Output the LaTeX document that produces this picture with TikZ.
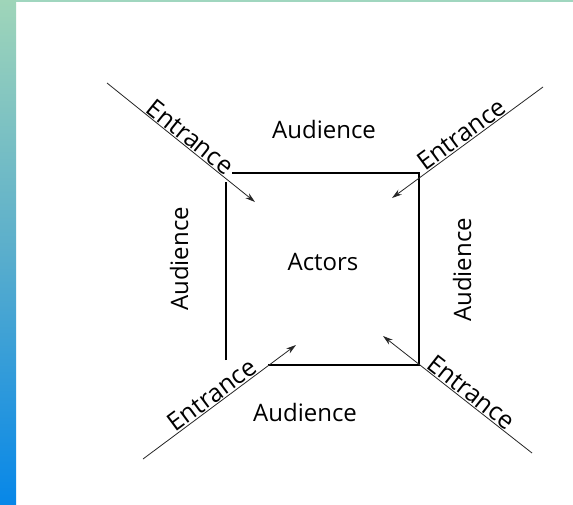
\documentclass[tikz,border=0pt]{standalone}
\usepackage{fontspec}
\setmainfont{Open Sans}
\usetikzlibrary{arrows.meta}
\definecolor{bartop}{HTML}{9FD5B9}
\definecolor{barmid}{HTML}{5AAECC}
\definecolor{barbot}{HTML}{0787E8}
\definecolor{topband}{HTML}{A0D6BF}
\tikzset{
  lbl/.style={font=\fontsize{24}{28}\selectfont, inner sep=0pt, text=black},
  ent/.style={font=\fontsize{25}{29}\selectfont, inner sep=1pt, text=black, sloped, above},
  entline/.style={line width=0.8pt, draw=black!85, -{Stealth[length=10pt,width=6pt]}},
  boxline/.style={line width=1.3pt, draw=black},
}
\begin{document}
\begin{tikzpicture}[x=1pt,y=-1pt]
\useasboundingbox (0,0) rectangle (573,504);
\fill[white] (0,0) rectangle (573,504);
\shade[top color=bartop, bottom color=barbot, middle color=barmid] (0,0) rectangle (16,504);
\fill[topband] (16,0) rectangle (573,2);
% box
\coordinate (bl1) at (226,360);
\coordinate (tl1) at (226,182);
\coordinate (tl2) at (232,173);
\coordinate (tr) at (419,173);
\coordinate (br) at (419,365);
\coordinate (bl2) at (268,365);
\draw[boxline] (bl1) -- (tl1);
\draw[boxline] (tl2) -- (tr) -- (br) -- (bl2);
% entrance lines
\coordinate (tlS) at (107,83);
\coordinate (tlE) at (255,202);
\coordinate (trS) at (543,87);
\coordinate (trE) at (392,198);
\coordinate (blS) at (143,459);
\coordinate (blE) at (296,345);
\coordinate (brS) at (532,453);
\coordinate (brE) at (383,336);
\draw[entline] (tlS) -- node[ent, pos=0.52] (e1) {Entrance} (tlE);
\draw[entline] (trS) -- node[ent, pos=0.5] (e2) {Entrance} (trE);
\draw[entline] (blS) -- node[ent, pos=0.49] (e3) {Entrance} (blE);
\draw[entline] (brS) -- node[ent, pos=0.45] (e4) {Entrance} (brE);
% labels
\node[lbl] (audT) at (324,129) {Audience};
\node[lbl] (audB) at (305,412) {Audience};
\node[lbl, rotate=90] (audL) at (179,259) {Audience};
\node[lbl, rotate=90] (audR) at (462,270) {Audience};
\node[lbl] (act) at (323,262) {Actors};
\end{tikzpicture}
\end{document}
